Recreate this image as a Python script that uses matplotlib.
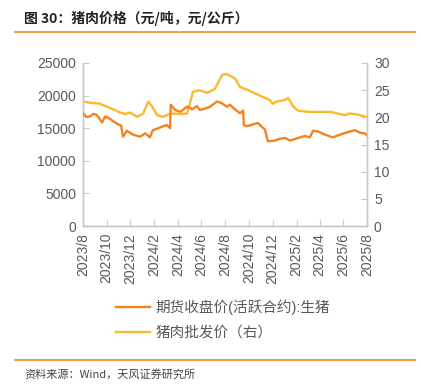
import pandas as pd
import matplotlib
matplotlib.use('Agg')
import matplotlib.pyplot as plt

plt.rcParams['font.family'] = ['Liberation Sans', 'Noto Sans CJK SC', 'DejaVu Sans']

# 期货收盘价(活跃合约):生猪, 元/吨 (left axis)
fut_dates = ['2023-08-01', '2023-08-10', '2023-08-19', '2023-08-28', '2023-09-06', '2023-09-19',
             '2023-09-27', '2023-10-08', '2023-10-17', '2023-10-30', '2023-11-07', '2023-11-12',
             '2023-11-22', '2023-12-08', '2023-12-26', '2024-01-08', '2024-01-20', '2024-01-28',
             '2024-02-15', '2024-03-04', '2024-03-12', '2024-03-14', '2024-03-25', '2024-04-07',
             '2024-04-25', '2024-05-08', '2024-05-20', '2024-05-28', '2024-06-15', '2024-06-23',
             '2024-07-11', '2024-07-24', '2024-08-06', '2024-08-13', '2024-08-26', '2024-09-08',
             '2024-09-16', '2024-09-18', '2024-09-26', '2024-10-12', '2024-10-24', '2024-11-04',
             '2024-11-11', '2024-11-19', '2024-12-07', '2024-12-20', '2025-01-02', '2025-01-15',
             '2025-02-10', '2025-02-22', '2025-03-07', '2025-03-15', '2025-03-28', '2025-04-15',
             '2025-05-05', '2025-05-23', '2025-06-18', '2025-07-01', '2025-07-14', '2025-07-27',
             '2025-08-03']
fut_vals = [17300, 16700, 16800, 17200, 17000, 15900,
            16800, 16500, 16100, 15600, 15400, 13700,
            14600, 14000, 13700, 14200, 13600, 14700,
            15100, 15500, 15000, 18600, 17800, 17500,
            18300, 17900, 18400, 17800, 18100, 18300,
            19100, 18800, 18300, 18600, 17900, 17300,
            17700, 15500, 15300, 15600, 15800, 15200,
            14800, 13000, 13100, 13400, 13500, 13100,
            13600, 13800, 13600, 14600, 14500, 14000,
            13600, 14000, 14500, 14700, 14300, 14200,
            13800]

# 猪肉批发价, 元/公斤 (right axis)
pork_dates = ['2023-08-01', '2023-08-19', '2023-09-14', '2023-10-10', '2023-11-04', '2023-11-18',
              '2023-11-30', '2023-12-18', '2024-01-03', '2024-01-16', '2024-01-26', '2024-02-08',
              '2024-02-23', '2024-03-12', '2024-04-07', '2024-04-25', '2024-05-02', '2024-05-10',
              '2024-05-28', '2024-06-15', '2024-07-05', '2024-07-13', '2024-07-24', '2024-08-03',
              '2024-08-26', '2024-09-08', '2024-09-29', '2024-10-17', '2024-11-04', '2024-11-24',
              '2024-12-01', '2024-12-12', '2025-01-02', '2025-01-10', '2025-01-23', '2025-02-05',
              '2025-03-07', '2025-04-29', '2025-05-23', '2025-06-05', '2025-06-18', '2025-07-09',
              '2025-08-03']
pork_vals = [22.9, 22.7, 22.5, 21.7, 20.9, 20.6,
             20.9, 20.1, 20.7, 22.9, 22.0, 20.4,
             20.1, 20.7, 20.6, 20.7, 22.5, 24.7,
             25.0, 24.5, 25.2, 26.3, 27.8, 28.0,
             27.2, 25.6, 25.0, 24.4, 23.8, 23.2,
             22.5, 22.9, 23.2, 23.6, 22.0, 21.2,
             21.0, 21.0, 20.6, 20.4, 20.7, 20.5,
             20.0]

tick_dates = pd.date_range('2023-08-01', '2025-08-01', freq='2MS')
tick_labels = [f'{d.year}/{d.month}' for d in tick_dates]

ORANGE = '#F5821F'
YELLOW = '#FDB92B'
GRID = '#C8C8C8'
TXT = '#595959'

fig = plt.figure(figsize=(4.21, 3.85), dpi=100)
ax = fig.add_axes([83 / 421, 1 - 226 / 385, (367 - 83) / 421, (226 - 63) / 385])
ax2 = ax.twinx()

l1, = ax.plot(pd.to_datetime(fut_dates), fut_vals, color=ORANGE, lw=1.7, zorder=3)
l2, = ax2.plot(pd.to_datetime(pork_dates), pork_vals, color=YELLOW, lw=1.7)
ax.set_zorder(ax2.get_zorder() + 1)
ax.patch.set_visible(False)

ax.set_xlim(pd.Timestamp('2023-08-01'), pd.Timestamp('2025-08-01'))
ax.set_ylim(0, 25000)
ax2.set_ylim(0, 30)
ax.set_yticks(range(0, 25001, 5000))
ax2.set_yticks(range(0, 31, 5))
ax.set_xticks(tick_dates)
ax.set_xticklabels(tick_labels, rotation=90)

for a in (ax, ax2):
    a.spines['top'].set_visible(False)
    for s in ('left', 'right', 'bottom'):
        a.spines[s].set_color(GRID)
        a.spines[s].set_linewidth(1.0)
    a.tick_params(direction='in', length=4, color=GRID, labelcolor=TXT, labelsize=10, pad=5)
ax.tick_params(axis='x', pad=5)

fig.legend([l1, l2], ['期货收盘价(活跃合约):生猪', '猪肉批发价（右）'],
           loc='upper left', bbox_to_anchor=(116 / 421, 1 - 299 / 385), frameon=False,
           fontsize=10.5, labelcolor=TXT, handlelength=2.3, handletextpad=0.4,
           labelspacing=0.75, borderaxespad=0, borderpad=0)

fig.text(24 / 421, 1 - 18 / 385, '图 30：猪肉价格（元/吨，元/公斤）', fontsize=10,
         fontweight='bold', color='#222222', va='center', ha='left',
         family=['Noto Sans CJK SC', 'DejaVu Sans'])
fig.add_artist(plt.Line2D([15 / 421, 415 / 421], [1 - 32 / 385] * 2, color='#F08A24', lw=1.2))
fig.add_artist(plt.Line2D([15 / 421, 415 / 421], [1 - 360 / 385] * 2, color='#F08A24', lw=1.2))
fig.text(24 / 421, 1 - 374 / 385, '资料来源：Wind，天风证券研究所', fontsize=8,
         color='#444444', va='center', ha='left', family=['Noto Sans CJK SC', 'DejaVu Sans'])

fig.savefig('out.png', dpi=100)
